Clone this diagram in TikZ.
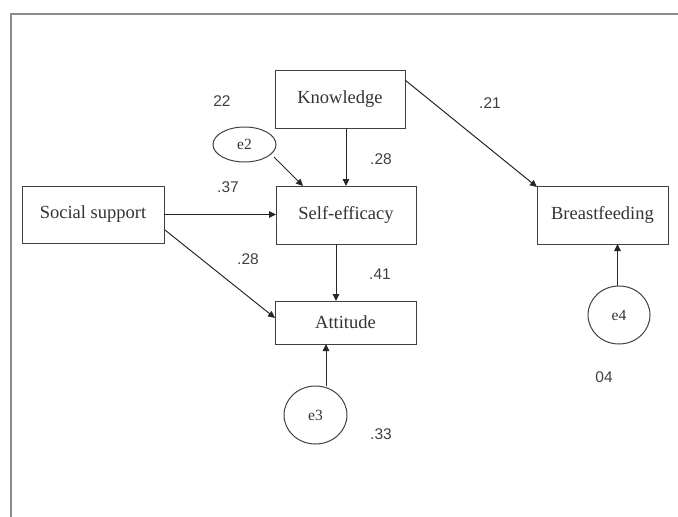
\documentclass[tikz,border=0pt]{standalone}
\usepackage{fontspec}
\setmainfont{Liberation Serif}
\newfontfamily\numfont{Liberation Sans}
\usetikzlibrary{arrows.meta,shapes.geometric}
\begin{document}
\begin{tikzpicture}[x=1pt,y=-1pt,
  box/.style={draw=black!75,line width=1pt,minimum height=58pt,inner sep=0pt,font=\fontsize{18.5}{18.5}\selectfont,text=black!80},
  err/.style={draw=black!75,line width=1pt,ellipse,inner sep=0pt,font=\fontsize{15.5}{15.5}\selectfont,text=black!80},
  num/.style={font=\numfont\fontsize{15.5}{15.5}\selectfont,text=black!75,inner sep=0pt},
  path/.style={draw=black!85,line width=1pt,-{Triangle[length=7pt,width=6.5pt]}}]
\useasboundingbox (0,0) rectangle (678,517);
% frame
\draw[black!45,line width=2.2pt] (11,517) -- (11,14) -- (678,14);
% boxes
\node[box,minimum width=130pt] (know) at (340,99) {Knowledge};
\node[box,minimum width=140pt] (self) at (346,215) {Self-efficacy};
\node[box,minimum width=141pt,minimum height=43pt] (att) at (345.5,322.5) {Attitude};
\node[box,minimum width=142pt,minimum height=57pt] (soc) at (93,214.5) {Social support};
\node[box,minimum width=131pt] (breast) at (602.5,215) {Breastfeeding};
% error terms
\node[err,minimum width=63pt,minimum height=35pt] (e2) at (244.5,144.5) {e2};
\node[err,minimum width=63pt,minimum height=58pt] (e3) at (315.5,415) {e3};
\node[err,minimum width=62pt,minimum height=58pt] (e4) at (619,315) {e4};
% coordinates for arrow ends
\coordinate (kb) at (346,128);
\coordinate (st) at (346,186);
\coordinate (kr) at (405,80);
\coordinate (bt) at (537,187);
\coordinate (e2s) at (274,157);
\coordinate (se2) at (303,186);
\coordinate (ss1) at (164,214.5);
\coordinate (sl) at (276,214.5);
\coordinate (ss2) at (165,230);
\coordinate (al) at (275,318);
\coordinate (sb) at (336,244);
\coordinate (at) at (336,301);
\coordinate (e3t) at (326,386);
\coordinate (ab) at (326,344);
\coordinate (e4t) at (617.5,286);
\coordinate (bb) at (617.5,244);
% paths
\draw[path] (kb) -- (st);
\draw[path] (kr) -- (bt);
\draw[path] (e2s) -- (se2);
\draw[path] (ss1) -- (sl);
\draw[path] (ss2) -- (al);
\draw[path] (sb) -- (at);
\draw[path] (e3t) -- (ab);
\draw[path] (e4t) -- (bb);
% labels
\node[num] (l22) at (222,101) {22};
\node[num] (l21) at (490,103) {.21};
\node[num] (l28a) at (381,159) {.28};
\node[num] (l37) at (228,187) {.37};
\node[num] (l28b) at (248,259) {.28};
\node[num] (l41) at (380,274) {.41};
\node[num] (l33) at (381,434) {.33};
\node[num] (l04) at (604,377) {04};
\end{tikzpicture}
\end{document}
